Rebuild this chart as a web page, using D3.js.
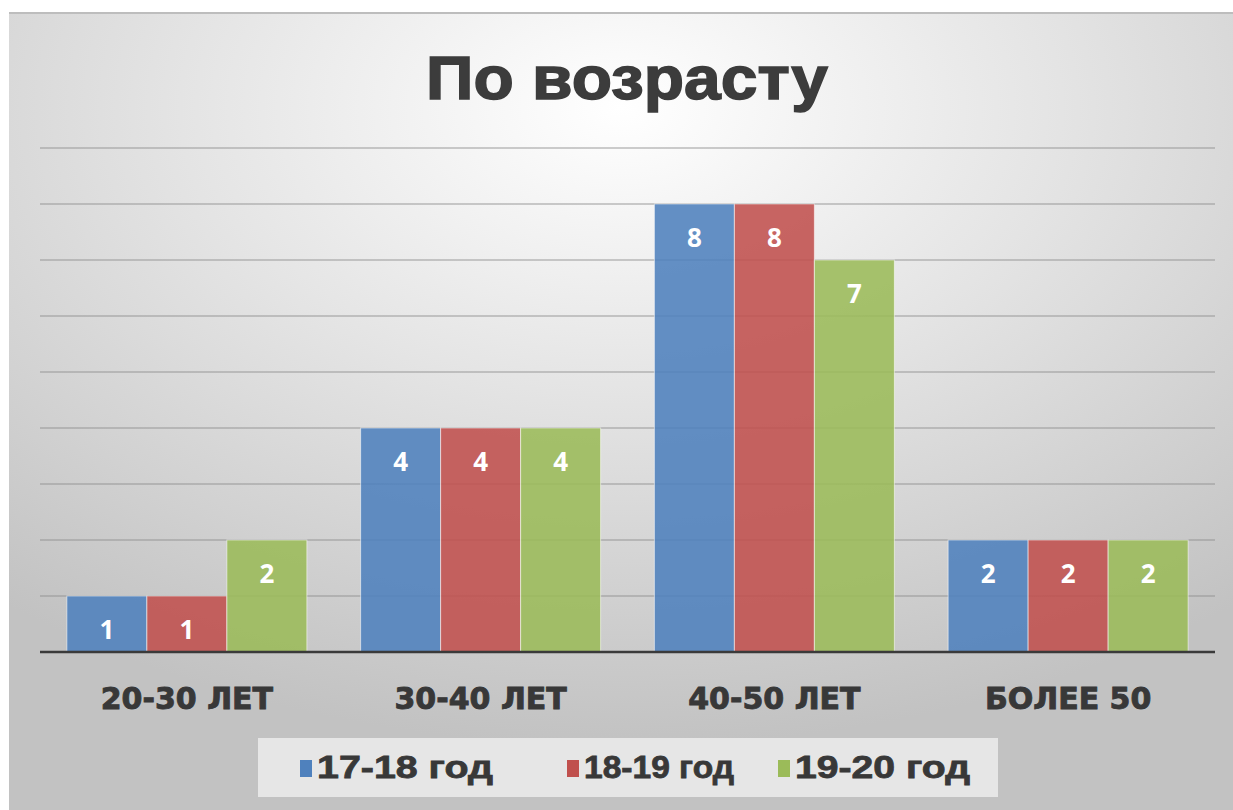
<!DOCTYPE html>
<html>
<head>
<meta charset="utf-8">
<script src="https://cdn.jsdelivr.net/npm/d3@7"></script>
<style>
  html, body { margin: 0; padding: 0; background: #fff; }
  svg { display: block; }
</style>
</head>
<body>
<svg width="1233" height="810"></svg>
<script>
const width = 1233, height = 810;
const svg = d3.select("svg");

const categories = ["20-30 ЛЕТ", "30-40 ЛЕТ", "40-50 ЛЕТ", "БОЛЕЕ 50"];
const seriesNames = ["17-18 год", "18-19 год", "19-20 год"];
const values1718 = [1, 4, 8, 2];
const values1819 = [1, 4, 8, 2];
const values1920 = [2, 4, 7, 2];
const yTicks = [0, 1, 2, 3, 4, 5, 6, 7, 8, 9];
const colors = ["#4f81bd", "#c0504d", "#9bbb59"];

const seriesValues = [values1718, values1819, values1920];

// background
const defs = svg.append("defs");
const grad = defs.append("radialGradient")
  .attr("id", "bg")
  .attr("cx", "50%").attr("cy", "12%").attr("r", "80%");
grad.append("stop").attr("offset", "0%").attr("stop-color", "#ffffff");
grad.append("stop").attr("offset", "45%").attr("stop-color", "#e4e4e4");
grad.append("stop").attr("offset", "100%").attr("stop-color", "#c2c2c2");

svg.append("rect")
  .attr("x", 9).attr("y", 12)
  .attr("width", width - 9).attr("height", height - 12)
  .attr("fill", "url(#bg)");
svg.append("line")
  .attr("x1", 9).attr("x2", width).attr("y1", 13).attr("y2", 13)
  .attr("stroke", "#bdbdbd").attr("stroke-width", 2);

const x = d3.scaleBand()
  .domain(categories)
  .range([40, 1215])
  .paddingInner(0.183)
  .paddingOuter(0.0915);

const xInner = d3.scaleBand()
  .domain(seriesNames)
  .range([0, x.bandwidth()]);

const y = d3.scaleLinear()
  .domain([0, 9])
  .range([652, 148]);

// gridlines
svg.append("g")
  .selectAll("line")
  .data(yTicks.filter(d => d > 0))
  .join("line")
  .attr("x1", 40).attr("x2", 1215)
  .attr("y1", d => y(d)).attr("y2", d => y(d))
  .attr("stroke", "#8f8f8f")
  .attr("stroke-opacity", 0.6)
  .attr("stroke-width", 1.5);

// bars
const groups = svg.append("g")
  .selectAll("g")
  .data(categories)
  .join("g")
  .attr("transform", d => `translate(${x(d)},0)`);

groups.selectAll("rect")
  .data((c, i) => seriesNames.map((s, k) => ({ s, k, v: seriesValues[k][i] })))
  .join("rect")
  .attr("x", d => xInner(d.s))
  .attr("y", d => y(d.v))
  .attr("width", xInner.bandwidth())
  .attr("height", d => y(0) - y(d.v))
  .attr("fill", d => colors[d.k])
  .attr("fill-opacity", 0.88)
  .attr("stroke", "rgba(255,255,255,0.55)")
  .attr("stroke-width", 1);

groups.selectAll("text")
  .data((c, i) => seriesNames.map((s, k) => ({ s, k, v: seriesValues[k][i] })))
  .join("text")
  .attr("x", d => xInner(d.s) + xInner.bandwidth() / 2)
  .attr("y", d => y(d.v) + 33)
  .attr("text-anchor", "middle")
  .attr("dominant-baseline", "central")
  .attr("fill", "#ffffff")
  .attr("font-family", "'Open Sans', sans-serif")
  .attr("font-weight", "bold")
  .attr("font-size", 26)
  .text(d => d.v);

// baseline
svg.append("line")
  .attr("x1", 40).attr("x2", 1215)
  .attr("y1", y(0)).attr("y2", y(0))
  .attr("stroke", "#3a3a3a")
  .attr("stroke-width", 2.5);

// x axis labels
const xAxis = svg.append("g")
  .attr("transform", `translate(0,${y(0)})`)
  .call(d3.axisBottom(x).tickSize(0).tickPadding(46));
xAxis.select(".domain").remove();
xAxis.selectAll("text")
  .attr("fill", "#383838")
  .attr("stroke", "#383838")
  .attr("stroke-width", 0.9)
  .attr("font-family", "'DejaVu Sans', Verdana, sans-serif")
  .attr("font-weight", "bold")
  .attr("font-size", 30)
  .attr("dy", "0")
  .attr("dominant-baseline", "central");

// title
svg.append("text")
  .attr("x", 627).attr("y", 99)
  .attr("text-anchor", "middle")
  .attr("fill", "#3c3c3c")
  .attr("stroke", "#3c3c3c")
  .attr("stroke-width", 1.5)
  .attr("font-family", "'Liberation Sans', Arial, sans-serif")
  .attr("font-weight", "bold")
  .attr("font-size", 62)
  .attr("textLength", 402)
  .attr("lengthAdjust", "spacingAndGlyphs")
  .text("По возрасту");

// legend
svg.append("rect")
  .attr("x", 258).attr("y", 738)
  .attr("width", 740).attr("height", 59)
  .attr("fill", "#ececec")
  .attr("fill-opacity", 0.85);

const legendX = [300, 567, 778];
const legendW = [176, 150, 175];
const legend = svg.append("g")
  .selectAll("g")
  .data(seriesNames)
  .join("g")
  .attr("transform", (d, i) => `translate(${legendX[i]},0)`);
legend.append("rect")
  .attr("x", 0).attr("y", 760)
  .attr("width", 12).attr("height", 17)
  .attr("fill", (d, i) => colors[i]);
legend.append("text")
  .attr("x", 17).attr("y", 778)
  .attr("fill", "#383838")
  .attr("stroke", "#383838")
  .attr("stroke-width", 0.8)
  .attr("font-family", "'Liberation Sans', Arial, sans-serif")
  .attr("font-weight", "bold")
  .attr("font-size", 32)
  .attr("textLength", (d, i) => legendW[i])
  .attr("lengthAdjust", "spacingAndGlyphs")
  .text(d => d);
</script>
</body>
</html>
